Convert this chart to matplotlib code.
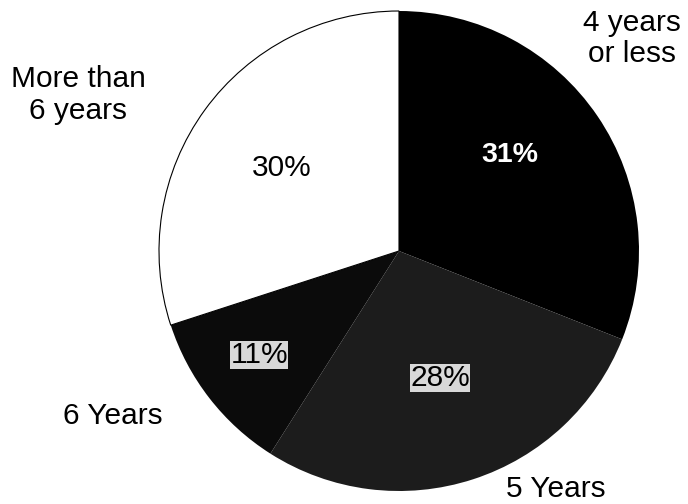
import matplotlib
matplotlib.use("Agg")
import matplotlib.pyplot as plt

plt.rcParams['font.family'] = ['Liberation Sans', 'DejaVu Sans']

categories = ["4 years\nor less", "5 Years", "6 Years", "More than\n6 years"]
shares = [31, 28, 11, 30]
colors = ["#000000", "#1c1c1c", "#0b0b0b", "#ffffff"]

# label placement (data units, pie radius = 1)
pct_pos = [(0.4625, 0.40), (0.171, -0.53), (-0.583, -0.433), (-0.49, 0.344)]
name_pos = [(0.97, 0.885), (0.652, -0.99), (-1.194, -0.6875), (-1.3375, 0.65)]

W, H, DPI = 688, 504, 100
fig = plt.figure(figsize=(W / DPI, H / DPI), dpi=DPI)
ax = fig.add_axes([0, 0, 1, 1])
cx, cy, R = 399, 251, 240

wedges, _ = ax.pie(shares, colors=colors, startangle=90, counterclock=False,
                   radius=1, wedgeprops=dict(edgecolor="none", linewidth=0))
# thin outline on the white slice
wedges[3].set_edgecolor("black")
wedges[3].set_linewidth(0.8)

ax.set_xlim(-cx / R, (W - cx) / R)
ax.set_ylim(-(H - cy) / R, cy / R)
ax.set_aspect("equal")
ax.axis("off")

fs = 21.5
for i, (v, (x, y)) in enumerate(zip(shares, pct_pos)):
    txt = f"{v}%"
    if i == 0:
        ax.text(x, y, txt, ha="center", va="center", fontsize=20.5,
                color="white", fontweight="bold")
    elif i == 3:
        ax.text(x, y, txt, ha="center", va="center", fontsize=fs, color="black")
    else:
        ax.text(x, y, txt, ha="center", va="center", fontsize=fs, color="black",
                bbox=dict(boxstyle="square,pad=0.0", facecolor="#d8d8d8",
                          edgecolor="none"))

for name, (x, y) in zip(categories, name_pos):
    ax.text(x, y, name, ha="center", va="center", fontsize=fs,
            color="black", linespacing=1.15)

fig.savefig("out.png", dpi=DPI)
